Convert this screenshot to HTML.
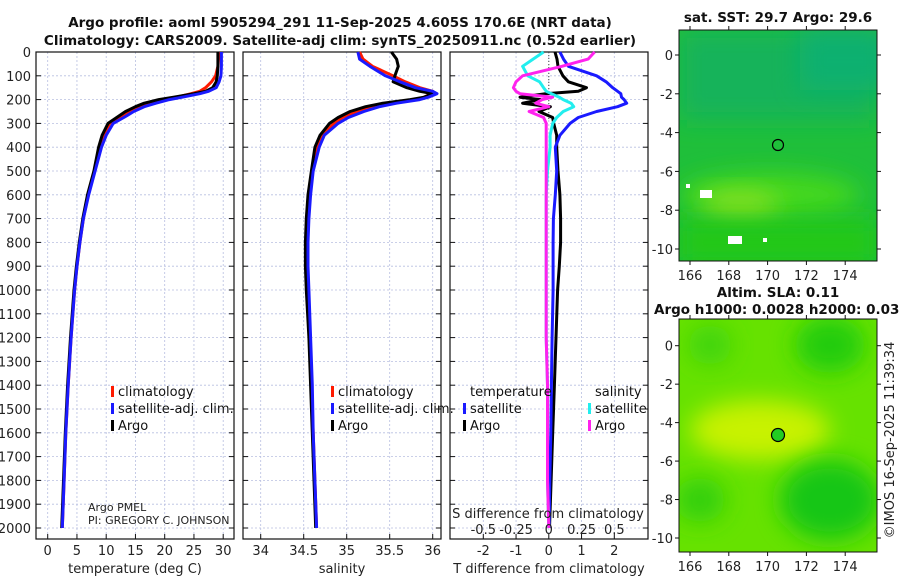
<!DOCTYPE html>
<html><head><meta charset="utf-8">
<style>
body{margin:0;background:#fff;}
svg{display:block;font-family:"DejaVu Sans","Liberation Sans",sans-serif;}
.tk{font-size:13px;fill:#222;}
.ttl{font-size:13.5px;font-weight:bold;fill:#111;}
.lg{font-size:13px;fill:#111;}
</style></head>
<body>
<svg id="c" width="900" height="580" viewBox="0 0 900 580">
<defs>
<filter id="bl" x="-50%" y="-50%" width="200%" height="200%"><feGaussianBlur stdDeviation="12"/></filter>
<clipPath id="m1c"><rect x="679" y="30" width="198" height="231"/></clipPath>
<clipPath id="m2c"><rect x="679" y="319" width="198" height="233"/></clipPath>
</defs>
<text class="ttl" x="340" y="27" text-anchor="middle">Argo profile: aoml 5905294_291 11-Sep-2025 4.605S 170.6E (NRT data)</text>
<text class="ttl" x="340" y="45" text-anchor="middle">Climatology: CARS2009. Satellite-adj clim: synTS_20250911.nc (0.52d earlier)</text>

<g>
<g clip-path="url(#m1c)">
<rect x="679" y="30" width="198" height="231" fill="#1fbf3a"/>
<rect x="679" y="30" width="198" height="90" fill="#14b35a" filter="url(#bl)"/>
<rect x="800" y="30" width="90" height="60" fill="#0fb070" filter="url(#bl)"/>
<ellipse cx="770" cy="195" rx="90" ry="22" fill="#44d81a" filter="url(#bl)"/>
<ellipse cx="740" cy="205" rx="40" ry="14" fill="#88e020" filter="url(#bl)"/>
<rect x="679" y="220" width="198" height="45" fill="#22c818" filter="url(#bl)"/>
<rect x="700" y="190" width="12" height="8" fill="#fff"/>
<rect x="686" y="184" width="4" height="4" fill="#fff"/>
<rect x="728" y="236" width="14" height="8" fill="#fff"/>
<rect x="763" y="238" width="4" height="4" fill="#fff"/>
</g>
<rect x="679" y="30" width="198" height="231" fill="none" stroke="#111" stroke-width="1"/>
<circle cx="778" cy="145" r="5.5" fill="none" stroke="#000" stroke-width="1.2"/>
<text class="ttl" x="778" y="22" text-anchor="middle">sat. SST: 29.7 Argo: 29.6</text>
<g id="m1ax"></g>
</g>

<g>
<g clip-path="url(#m2c)">
<rect x="679" y="319" width="198" height="233" fill="#66e200"/>
<ellipse cx="760" cy="430" rx="70" ry="30" fill="#c8f200" filter="url(#bl)"/>
<ellipse cx="830" cy="345" rx="35" ry="28" fill="#22cc10" filter="url(#bl)"/>
<ellipse cx="830" cy="500" rx="50" ry="40" fill="#18c614" filter="url(#bl)"/>
<ellipse cx="700" cy="500" rx="25" ry="22" fill="#30cf10" filter="url(#bl)"/>
<ellipse cx="710" cy="345" rx="22" ry="20" fill="#40d408" filter="url(#bl)"/>
</g>
<rect x="679" y="319" width="198" height="233" fill="none" stroke="#111" stroke-width="1"/>
<circle cx="778" cy="435" r="6.5" fill="#22cc22" stroke="#000" stroke-width="1.2"/>
<text class="ttl" x="778" y="297" text-anchor="middle">Altim. SLA: 0.11</text>
<text class="ttl" x="654" y="314">Argo h1000: 0.0028 h2000: 0.037</text>
<g id="m2ax"></g>
</g>
<text class="tk" transform="translate(894,440) rotate(-90)" text-anchor="middle">©IMOS 16-Sep-2025 11:39:34</text>

<g id="plots"></g>
<text class="tk" x="88" y="511" style="font-size:11px">Argo PMEL</text>
<text class="tk" x="88" y="524" style="font-size:11px">PI: GREGORY C. JOHNSON</text>
</svg>
<script>
const depth=[0,30,60,100,125,150,165,175,190,200,215,230,250,275,300,350,400,500,600,700,800,900,1000,1200,1400,1600,1800,2000];
const tArgo=[29.1,29.1,29.1,29.0,28.8,28.2,27.0,25.0,21.5,19.0,16.5,15.0,13.3,11.8,10.3,9.3,8.7,7.9,6.8,6.0,5.4,4.9,4.5,3.9,3.4,3.0,2.7,2.4];
const tClim=[29.2,29.2,29.1,28.7,28.0,27.0,26.0,24.5,22.0,20.0,17.5,15.8,14.0,12.2,10.6,9.5,8.8,8.0,6.9,6.1,5.5,5.0,4.6,4.0,3.5,3.1,2.8,2.5];
const tSat=[29.7,29.7,29.7,29.6,29.3,28.8,27.5,26.0,23.0,20.8,18.5,16.5,14.7,13.0,11.2,10.0,9.2,8.1,7.0,6.1,5.5,5.0,4.6,4.0,3.5,3.1,2.8,2.5];
const sArgo=[35.52,35.58,35.6,35.56,35.54,35.70,35.85,36.0,35.9,35.74,35.42,35.22,35.04,34.9,34.8,34.69,34.63,34.59,34.55,34.53,34.52,34.52,34.53,34.56,34.58,34.6,34.62,34.64];
const sClim=[35.15,35.19,35.3,35.54,35.68,35.85,36.0,35.98,35.9,35.81,35.5,35.3,35.12,34.95,34.85,34.72,34.66,34.6,34.57,34.55,34.54,34.54,34.55,34.57,34.59,34.61,34.63,34.65];
const sSat=[35.13,35.15,35.27,35.45,35.62,35.8,36.0,36.05,35.95,35.85,35.58,35.38,35.2,35.02,34.9,34.74,34.68,34.61,34.58,34.56,34.55,34.55,34.56,34.58,34.6,34.61,34.63,34.65];
const dTArgo=[0.19,0.25,0.28,0.43,0.6,1.15,0.9,-0.1,-0.88,-0.25,-0.8,0.05,-0.3,0.12,0.15,0.24,0.24,0.28,0.34,0.36,0.36,0.32,0.27,0.22,0.17,0.12,0.07,0.02];
const dTSat=[0.34,0.45,0.6,1.46,1.75,1.95,2.1,2.2,2.22,2.3,2.38,2.1,1.46,0.9,0.65,0.34,0.2,0.24,0.2,0.14,0.13,0.13,0.13,0.1,0.08,0.06,0.03,0.01];
const dSSat=[-0.04,-0.12,-0.2,-0.16,-0.07,-0.04,-0.02,0.02,0.08,0.11,0.17,0.19,0.11,0.06,0.03,0.01,0.01,-0.01,-0.02,-0.02,-0.02,-0.02,-0.02,-0.02,-0.01,-0.01,-0.01,0];
const dSArgo=[0.35,0.3,0.1,-0.2,-0.25,-0.27,-0.25,-0.22,0.03,-0.05,-0.1,0.0,-0.15,-0.04,-0.02,-0.02,-0.02,-0.02,-0.02,-0.02,-0.02,-0.02,-0.02,-0.02,-0.01,-0.01,-0.01,0];
const depthTicks=[0,100,200,300,400,500,600,700,800,900,1000,1100,1200,1300,1400,1500,1600,1700,1800,1900,2000];
const tTicks=[0,5,10,15,20,25,30];
const sTicks=[34,34.5,35,35.5,36];
const dTTicks=[-2,-1,0,1,2];
const dSTicks=[-0.5,-0.25,0,0.25,0.5];
const dSTickLabels=["-0.5","-0.25","0","0.25","0.5"];
const lonTicks=[166,168,170,172,174];
const latTicks=[0,-2,-4,-6,-8,-10];

const NS='http://www.w3.org/2000/svg';
function mk(tag,attrs,parent){const e=document.createElementNS(NS,tag);for(const k in attrs)e.setAttribute(k,attrs[k]);parent.appendChild(e);return e;}
const plots=document.getElementById('plots');
const y=d=>52+d*0.238;
const TOP=52,BOT=539;
const panels=[
 {x0:36,x1:234,sx:v=>47.7+v*5.85,ticks:tTicks,title:'temperature (deg C)',name:'temperature-panel'},
 {x0:243,x1:441,sx:v=>260.7+(v-34)*86,ticks:sTicks,title:'salinity',name:'salinity-panel'},
 {x0:450,x1:648,sx:v=>548.8+v*32.75,ticks:dTTicks,title:'T difference from climatology',name:'difference-panel'}
];
const sxS=v=>548.8+v*131;
panels.forEach((p,pi)=>{
 const g=mk('g',{},plots);
 
 
 depthTicks.forEach(d=>{
  const l=mk('line',{x1:p.x0,x2:p.x1,y1:y(d),y2:y(d),stroke:'#b8bfe0','stroke-width':0.8,'stroke-dasharray':'2,2'},g);
  
  
  mk('line',{x1:p.x0,x2:p.x0+5,y1:y(d),y2:y(d),stroke:'#111'},g);
  mk('line',{x1:p.x1-5,x2:p.x1,y1:y(d),y2:y(d),stroke:'#111'},g);
  if(pi===0){const t=mk('text',{x:31,y:y(d)+5,'text-anchor':'end',class:'tk'},g);t.textContent=d;
   
   }
 });
 p.ticks.forEach(v=>{
  const x=p.sx(v);
  const l=mk('line',{x1:x,x2:x,y1:TOP,y2:BOT,stroke:'#b8bfe0','stroke-width':0.8,'stroke-dasharray':'2,2'},g);
  
  
  mk('line',{x1:x,x2:x,y1:BOT-5,y2:BOT,stroke:'#111'},g);
  const t=mk('text',{x:x,y:555,'text-anchor':'middle',class:'tk'},g);t.textContent=v;
  
  
 });
 const tt=mk('text',{x:(p.x0+p.x1)/2,y:573,'text-anchor':'middle',class:'tk'},g);tt.textContent=p.title;
 
 
 mk('rect',{x:p.x0,y:TOP,width:p.x1-p.x0,height:BOT-TOP,fill:'none',stroke:'#111','stroke-width':1.2},g);
});
function line(vals,sx,color,w,name){
 const pts=vals.map((v,i)=>sx(v).toFixed(1)+','+y(depth[i]).toFixed(1)).join(' ');
 const e=mk('polyline',{points:pts,fill:'none',stroke:color,'stroke-width':w,'stroke-linejoin':'round'},plots);
 
 
}
line(tClim,panels[0].sx,'#ff1a00',3,'temp-climatology-line');
line(tArgo,panels[0].sx,'#000',3,'temp-argo-line');
line(tSat,panels[0].sx,'#1a1aff',3,'temp-satellite-line');
line(sClim,panels[1].sx,'#ff1a00',3,'sal-climatology-line');
line(sArgo,panels[1].sx,'#000',3,'sal-argo-line');
line(sSat,panels[1].sx,'#1a1aff',3,'sal-satellite-line');
const z=mk('line',{x1:548.8,x2:548.8,y1:TOP,y2:120,stroke:'#444','stroke-dasharray':'1,2'},plots);


line(dTArgo,panels[2].sx,'#000',3,'tdiff-argo-line');
line(dTSat,panels[2].sx,'#1a1aff',3,'tdiff-satellite-line');
line(dSSat,sxS,'#22eeee',3,'sdiff-satellite-line');
line(dSArgo,sxS,'#ff22ee',3,'sdiff-argo-line');
// S-difference axis labels
const st=mk('text',{x:548,y:518,'text-anchor':'middle',class:'tk'},plots);st.textContent='S difference from climatology';


dSTicks.forEach((v,i)=>{const t=mk('text',{x:sxS(v),y:534,'text-anchor':'middle',class:'tk'},plots);t.textContent=dSTickLabels[i];
 
 });
// legends
function leg(x,yy,color,label,name){
 const g=mk('g',{},plots);
 
 
 mk('rect',{x:x-7,y:yy-10,width:3,height:11,fill:color},g);
 const t=mk('text',{x:x,y:yy,class:'lg'},g);t.textContent=label;
}
leg(118,396,'#ff1a00','climatology','legend-climatology');
leg(118,413,'#1a1aff','satellite-adj. clim.','legend-satellite');
leg(118,430,'#000','Argo','legend-argo');
leg(338,396,'#ff1a00','climatology','legend-climatology-2');
leg(338,413,'#1a1aff','satellite-adj. clim.','legend-satellite-2');
leg(338,430,'#000','Argo','legend-argo-2');
const lt=mk('text',{x:470,y:396,class:'lg'},plots);lt.textContent='temperature';


const ls=mk('text',{x:595,y:396,class:'lg'},plots);ls.textContent='salinity';


leg(470,413,'#1a1aff','satellite','legend-tdiff-satellite');
leg(470,430,'#000','Argo','legend-tdiff-argo');
leg(595,413,'#22eeee','satellite','legend-sdiff-satellite');
leg(595,430,'#ff22ee','Argo','legend-sdiff-argo');
// map axes
function mapAxes(gid,yTop,yBot,lat0y,lat10y){
 const g=document.getElementById(gid);
 const lx=v=>690+(v-166)*19.4;
 const ly=v=>lat0y+(-v)*(lat10y-lat0y)/10;
 lonTicks.forEach(v=>{
  mk('line',{x1:lx(v),x2:lx(v),y1:yBot,y2:yBot+4,stroke:'#111'},g);
  mk('line',{x1:lx(v),x2:lx(v),y1:yTop,y2:yTop-4,stroke:'#111'},g);
  const t=mk('text',{x:lx(v),y:yBot+19,'text-anchor':'middle',class:'tk'},g);t.textContent=v;
  
  
 });
 latTicks.forEach(v=>{
  mk('line',{x1:675,x2:679,y1:ly(v),y2:ly(v),stroke:'#111'},g);
  mk('line',{x1:877,x2:881,y1:ly(v),y2:ly(v),stroke:'#111'},g);
  const t=mk('text',{x:673,y:ly(v)+5,'text-anchor':'end',class:'tk'},g);t.textContent=v;
  
  
 });
}
mapAxes('m1ax',30,261,55,249);
mapAxes('m2ax',319,552,345.7,538);
</script>
</body></html>
